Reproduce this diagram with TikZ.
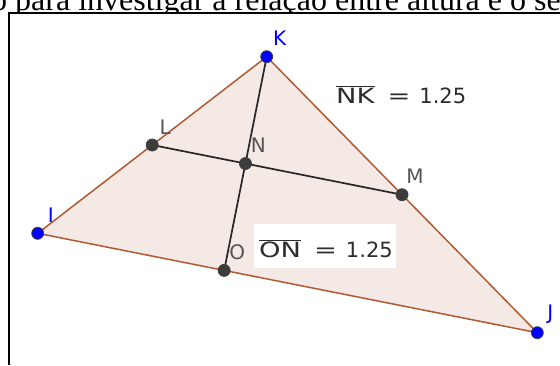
\documentclass[tikz,border=0pt]{standalone}
\usepackage{fontspec}
\setmainfont{Liberation Serif}
\newfontfamily\ggbfont{DejaVu Sans}
\newfontfamily\ggbwide[FakeStretch=1.3]{DejaVu Sans}
\usetikzlibrary{calc}

\definecolor{polyedge}{RGB}{175,90,50}
\definecolor{polyfill}{RGB}{244,233,228}
\definecolor{ptblue}{RGB}{0,0,255}
\definecolor{ptgrey}{RGB}{60,60,60}
\definecolor{lblgrey}{RGB}{85,85,85}
\definecolor{valgrey}{RGB}{45,45,45}

\newcommand\lenval[2]{$\overline{\hbox{\ggbwide #1}}$\hspace{13pt}{\ggbwide =}\hspace{9pt}#2}

\tikzset{
  bluept/.style={circle,fill=ptblue,draw=black!75,line width=0.8pt,inner sep=0pt,minimum size=12pt},
  greypt/.style={circle,fill=ptgrey,draw=black!75,line width=0.8pt,inner sep=0pt,minimum size=12pt},
  ptlbl/.style={inner sep=0pt,font=\ggbfont\fontsize{20}{20}\selectfont,xshift=13pt,yshift=18pt},
  bluelbl/.style={ptlbl,text=ptblue},
  greylbl/.style={ptlbl,text=lblgrey},
  side/.style={draw=polyedge,line width=1.5pt},
  seg/.style={draw=black!85,line width=1.7pt},
  valtext/.style={inner sep=0pt,text=valgrey,font=\ggbfont\fontsize{21}{24}\selectfont}
}

\begin{document}
\begin{tikzpicture}[x=1pt,y=-1pt]
  \useasboundingbox (0,0) rectangle (560,365);
  \clip (0,0) rectangle (560,365);
  % text above the picture
  \node[anchor=base west,inner sep=0pt,font=\fontsize{32}{36}\selectfont] (caption) at (-9,10) {o para investigar a relação entre altura e o se};
  \fill[white] (9,13) rectangle (560,365);
  \draw[line width=2pt] (9,365) -- (9,13) -- (560,13);
  % triangle
  \coordinate (I) at (37.7,233.3);
  \coordinate (K) at (266.7,56.7);
  \coordinate (J) at (537.3,332.7);
  \coordinate (L) at ($(I)!0.5!(K)$);
  \coordinate (M) at ($(K)!0.5!(J)$);
  \coordinate (O) at ($(I)!(K)!(J)$);
  \coordinate (N) at ($(K)!0.5!(O)$);
  \fill[polyfill] (I) -- (K) -- (J) -- cycle;
  \draw[side] (I) -- (K) -- (J) -- cycle;
  % midline and height
  \draw[seg] (L) -- (M);
  \draw[seg] (K) -- (O);
  % lengths
  \node[valtext,anchor=base west] (nkval) at (336,103) {\lenval{NK}{1.25}};
  \node[fill=white,inner sep=0pt,anchor=north west,minimum width=142pt,minimum height=44pt] (onbox) at (254,224) {};
  \node[valtext,anchor=base west] (onval) at (259,257) {\lenval{ON}{1.25}};
  % points
  \node[bluept] (pI) at (I) {};
  \node[bluept] (pK) at (K) {};
  \node[bluept] (pJ) at (J) {};
  \node[greypt] (pL) at (L) {};
  \node[greypt] (pM) at (M) {};
  \node[greypt] (pN) at (N) {};
  \node[greypt] (pO) at (O) {};
  \node[bluelbl] (lI) at (I) {I};
  \node[bluelbl] (lK) at (K) {K};
  \node[bluelbl] (lJ) at (J) {J};
  \node[greylbl] (lL) at (L) {L};
  \node[greylbl] (lM) at (M) {M};
  \node[greylbl] (lN) at (N) {N};
  \node[greylbl] (lO) at (O) {O};
\end{tikzpicture}
\end{document}
